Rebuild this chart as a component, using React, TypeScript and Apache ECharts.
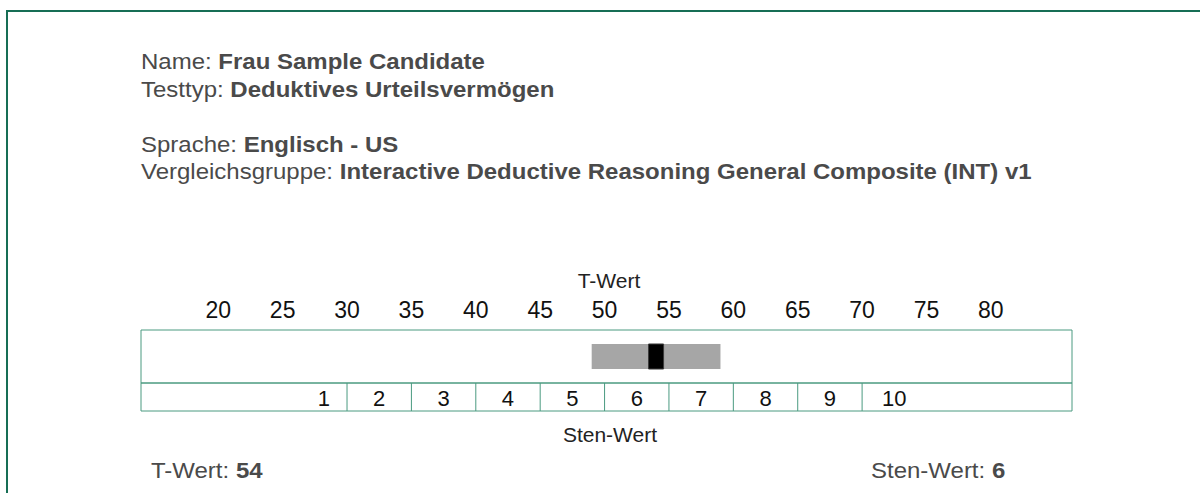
import React, { useEffect, useRef } from "react";
import * as echarts from "echarts";

// ---- data ----
const tTicks = [20, 25, 30, 35, 40, 45, 50, 55, 60, 65, 70, 75, 80];
const tAxisMin = 14;
const tAxisMax = 86.3;
const stenLabels = ["1", "2", "3", "4", "5", "6", "7", "8", "9", "10"];
const stenLabelPos = [28.2, 32.5, 37.5, 42.5, 47.5, 52.5, 57.5, 62.5, 67.5, 72.5];
const stenBounds = [30, 35, 40, 45, 50, 55, 60, 65, 70];
const bandRange = [49, 59];
const tScore = 54;
const stenScore = 6;

const candidateName = "Frau Sample Candidate";
const testType = "Deduktives Urteilsvermögen";
const language = "Englisch - US";
const normGroup = "Interactive Deductive Reasoning General Composite (INT) v1";

const FONT = "'Liberation Sans', Arial, Helvetica, sans-serif";
const GREY = "#4a4a4a";
const BOX = "#4a9a80";

export default function App() {
  const ref = useRef<HTMLDivElement>(null);
  useEffect(() => {
    if (!ref.current) return;
    const chart = echarts.init(ref.current, null, { renderer: "svg" });
    const mk = (size: number) => ({
      r: { fontFamily: FONT, fontSize: size, fill: GREY, color: GREY },
      b: { fontFamily: FONT, fontSize: size, fill: GREY, color: GREY, fontWeight: "bold" },
    });
    const rich = mk(24);
    const headerLine = (y: number, label: string, value: string) => ({
      type: "text",
      left: 141,
      top: y - 12,
      scaleY: 0.92,
      style: { text: `{r|${label} }{b|${value}}`, rich, fill: GREY },
    });
    chart.setOption({
      animation: false,
      backgroundColor: "#ffffff",
      textStyle: { fontFamily: FONT },
      grid: [
        { left: 141, top: 330, width: 931, height: 53, show: true, borderColor: BOX, borderWidth: 1, backgroundColor: "transparent" },
        { left: 141, top: 383, width: 931, height: 28, show: true, borderColor: BOX, borderWidth: 1, backgroundColor: "transparent" },
      ],
      xAxis: [
        {
          gridIndex: 0,
          type: "value",
          min: tAxisMin,
          max: tAxisMax,
          position: "top",
          axisLine: { show: false },
          axisTick: { show: false },
          splitLine: { show: false },
          axisLabel: { customValues: tTicks, fontSize: 23, color: "#111", margin: 9, fontFamily: FONT },
        },
        { gridIndex: 1, type: "value", min: tAxisMin, max: tAxisMax, show: false },
      ],
      yAxis: [
        { gridIndex: 0, type: "value", min: 0, max: 1, show: false },
        { gridIndex: 1, type: "value", min: 0, max: 1, show: false },
      ],
      series: [
        {
          type: "custom",
          xAxisIndex: 0,
          yAxisIndex: 0,
          data: [bandRange],
          renderItem: (params: any, api: any) => {
            const p0 = api.coord([api.value(0), 0.736]);
            const p1 = api.coord([api.value(1), 0.264]);
            return {
              type: "rect",
              shape: { x: p0[0], y: p0[1], width: p1[0] - p0[0], height: p1[1] - p0[1] },
              style: { fill: "#a6a6a6" },
            };
          },
        },
        {
          type: "custom",
          xAxisIndex: 0,
          yAxisIndex: 0,
          data: [[tScore]],
          renderItem: (params: any, api: any) => {
            const p0 = api.coord([api.value(0), 0.736]);
            const p1 = api.coord([api.value(0), 0.264]);
            return {
              type: "rect",
              shape: { x: p0[0] - 7.5, y: p0[1], width: 15, height: p1[1] - p0[1] },
              style: { fill: "#000000", stroke: "#3a3a3a", lineWidth: 1 },
            };
          },
        },
        {
          type: "custom",
          xAxisIndex: 1,
          yAxisIndex: 1,
          data: stenBounds.map((v) => [v]),
          renderItem: (params: any, api: any) => {
            const p0 = api.coord([api.value(0), 0]);
            const p1 = api.coord([api.value(0), 1]);
            return {
              type: "line",
              shape: { x1: p0[0], y1: p0[1], x2: p1[0], y2: p1[1] },
              style: { stroke: BOX, lineWidth: 1 },
            };
          },
        },
        {
          type: "custom",
          xAxisIndex: 1,
          yAxisIndex: 1,
          data: stenLabelPos.map((v) => [v]),
          renderItem: (params: any, api: any) => {
            const p = api.coord([api.value(0), 0.5]);
            return {
              type: "text",
              x: p[0],
              y: p[1] + 1,
              style: {
                text: stenLabels[params.dataIndex],
                fontFamily: FONT,
                fontSize: 22,
                fill: "#111",
                align: "center",
                verticalAlign: "middle",
              },
            };
          },
        },
      ],
      graphic: [
        {
          type: "rect",
          shape: { x: 7, y: 11, width: 1400, height: 700 },
          style: { fill: "none", stroke: "#176e55", lineWidth: 2 },
          silent: true,
        },
        headerLine(62, "Name:", candidateName),
        headerLine(90, "Testtyp:", testType),
        headerLine(145, "Sprache:", language),
        headerLine(172, "Vergleichsgruppe:", normGroup),
        {
          type: "text",
          x: 609,
          y: 280,
          style: { text: "T-Wert", fontFamily: FONT, fontSize: 21, fill: "#222", align: "center", verticalAlign: "middle" },
        },
        {
          type: "text",
          x: 610,
          y: 434,
          style: { text: "Sten-Wert", fontFamily: FONT, fontSize: 21, fill: "#222", align: "center", verticalAlign: "middle" },
        },
        {
          type: "text",
          left: 151,
          top: 459,
          scaleY: 0.92,
          style: { text: `{r|T-Wert: }{b|${tScore}}`, rich: mk(24), fill: GREY },
        },
        {
          type: "text",
          left: 871,
          top: 459,
          scaleY: 0.92,
          style: { text: `{r|Sten-Wert: }{b|${stenScore}}`, rich: mk(24), fill: GREY },
        },
      ],
    });
    return () => chart.dispose();
  }, []);
  return (
    <div
      ref={ref}
      style={{ position: "fixed", left: 0, top: 0, width: 1200, height: 493, background: "#fff" }}
    />
  );
}
